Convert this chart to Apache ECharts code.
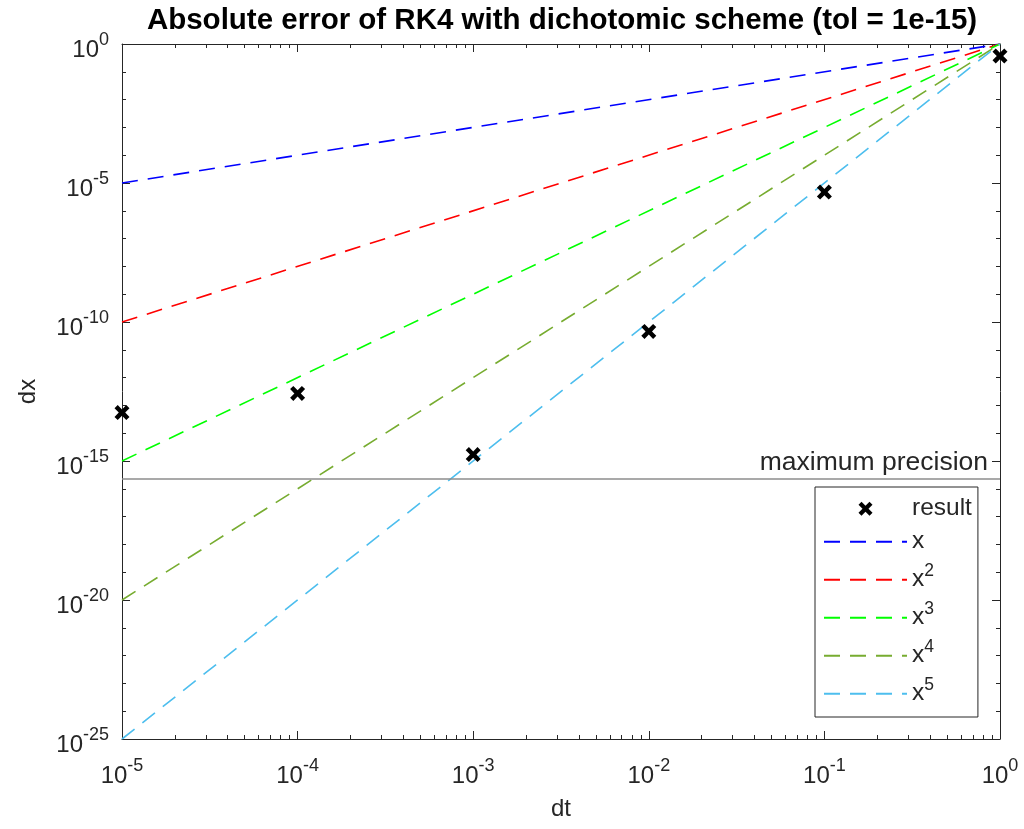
<!DOCTYPE html>
<html>
<head>
<meta charset="utf-8">
<script src="https://cdn.jsdelivr.net/npm/echarts@6/dist/echarts.min.js"></script>
<style>
  html, body { margin: 0; padding: 0; background: #fff; }
  #chart { width: 1024px; height: 829px; }
</style>
</head>
<body>
<div id="chart"></div>
<script>
// step sizes and measured absolute error
const dt = [1e-5, 1e-4, 1e-3, 1e-2, 1e-1, 1]
const resultErr = [5.5e-14, 2.7e-13, 1.7e-15, 4.6e-11, 4.7e-6, 0.37]

// reference slopes x^k, from dt = 1e-5 to dt = 1
const refNames = ['x', 'x2', 'x3', 'x4', 'x5']
const refStart = [1e-5, 1e-10, 1e-15, 1e-20, 1e-25]
const refEnd = [1, 1, 1, 1, 1]
const refColors = ['#0000ff', '#ff0000', '#00ff00', '#77ac30', '#4dbeee']

const maxPrecision = 2.22e-16

const textColor = '#262626'
const font = 'Liberation Sans, Arial, Helvetica, sans-serif'

function richFor(size, supSize, lift) {
  return {
    b: { fontSize: size, lineHeight: size, verticalAlign: 'bottom', color: textColor, fontFamily: font },
    s: { fontSize: supSize, lineHeight: supSize, verticalAlign: 'bottom', padding: [0, 0, lift, 0], color: textColor, fontFamily: font }
  }
}
const tickRich = richFor(24, 18, 13)
const legendRich = richFor(24.5, 17.5, 12)

function powLabel(exp) {
  return '{b|10}{s|' + exp + '}'
}

const xMark = 'path://M0,3 L3,0 L7,4 L11,0 L14,3 L10,7 L14,11 L11,14 L7,10 L3,14 L0,11 L4,7 Z'

const chart = echarts.init(document.getElementById('chart'), null, { renderer: 'canvas' })

const logX = (pos, showLabel) => ({
  type: 'log',
  logBase: 10,
  min: 1e-5,
  max: 1,
  position: pos,
  splitNumber: 5,
  axisLine: { onZero: false, lineStyle: { color: textColor, width: 1 } },
  axisTick: { show: true, inside: true, length: 8, lineStyle: { color: textColor } },
  minorTick: { show: true, splitNumber: 9, length: 4, lineStyle: { color: textColor } },
  splitLine: { show: false },
  axisLabel: {
    show: showLabel,
    margin: 25,
    formatter: v => powLabel(Math.round(Math.log10(v))),
    rich: tickRich
  }
})

const linY = (pos, showLabel) => ({
  type: 'value',
  min: -25,
  max: 0,
  interval: 5,
  position: pos,
  axisLine: { onZero: false, lineStyle: { color: textColor, width: 1 } },
  axisTick: { show: true, inside: true, length: 8, lineStyle: { color: textColor } },
  minorTick: { show: true, splitNumber: 5, length: 4, lineStyle: { color: textColor } },
  splitLine: { show: false },
  axisLabel: {
    show: showLabel,
    margin: 13,
    padding: [12, 0, 0, 0],
    formatter: v => powLabel(v),
    rich: tickRich
  }
})

const xBottom = Object.assign(logX('bottom', true), {
  name: 'dt',
  nameLocation: 'middle',
  nameGap: 58,
  nameTextStyle: { fontSize: 24, color: textColor, fontFamily: font }
})
const yLeft = Object.assign(linY('left', true), {
  name: 'dx',
  nameLocation: 'middle',
  nameGap: 82,
  nameTextStyle: { fontSize: 24, color: textColor, fontFamily: font }
})

const series = [{
  name: 'result',
  type: 'scatter',
  symbol: xMark,
  symbolSize: 15,
  itemStyle: { color: '#000', opacity: 1 },
  data: dt.map((d, i) => [d, Math.log10(resultErr[i])]),
  z: 5,
  markLine: {
    silent: true,
    symbol: 'none',
    lineStyle: { color: '#8c8c8c', type: 'solid', width: 1.5 },
    label: {
      position: 'insideEndTop',
      formatter: 'maximum precision',
      fontSize: 26.5,
      color: textColor,
      fontFamily: font,
      distance: [12, 3]
    },
    data: [{ yAxis: Math.log10(maxPrecision) }]
  }
}]

refNames.forEach((name, i) => {
  series.push({
    name: name,
    type: 'line',
    symbol: 'none',
    lineStyle: { color: refColors[i], width: 1.6, type: [16, 10] },
    itemStyle: { color: refColors[i] },
    data: [[dt[0], Math.log10(refStart[i])], [dt[dt.length - 1], Math.log10(refEnd[i])]],
    z: 3
  })
})

const legendText = {
  result: '{b|result}',
  x: '{b|x}',
  x2: '{b|x}{s|2}',
  x3: '{b|x}{s|3}',
  x4: '{b|x}{s|4}',
  x5: '{b|x}{s|5}'
}

const option = {
  animation: false,
  backgroundColor: '#fff',
  textStyle: { fontFamily: font },
  title: {
    text: 'Absolute error of RK4 with dichotomic scheme (tol = 1e-15)',
    left: 557,
    textAlign: 'center',
    top: 1,
    textStyle: { fontSize: 29.5, fontWeight: 'bold', color: '#000', fontFamily: font }
  },
  grid: { left: 122, right: 24, top: 44, bottom: 90, containLabel: false },
  legend: {
    orient: 'vertical',
    left: 815,
    top: 487,
    padding: [9, 6, 11, 8],
    itemGap: 8,
    itemWidth: 83,
    itemHeight: 14,
    borderColor: '#262626',
    borderWidth: 1,
    backgroundColor: '#fff',
    data: [{ name: 'result' }].concat(refNames.map(n => ({
      name: n,
      itemStyle: { color: 'rgba(0,0,0,0)', borderWidth: 0 }
    }))),
    formatter: n => legendText[n],
    textStyle: { rich: legendRich }
  },
  xAxis: [xBottom, logX('top', false)],
  yAxis: [yLeft, linY('right', false)],
  series: series
}

chart.setOption(option)
</script>
</body>
</html>
